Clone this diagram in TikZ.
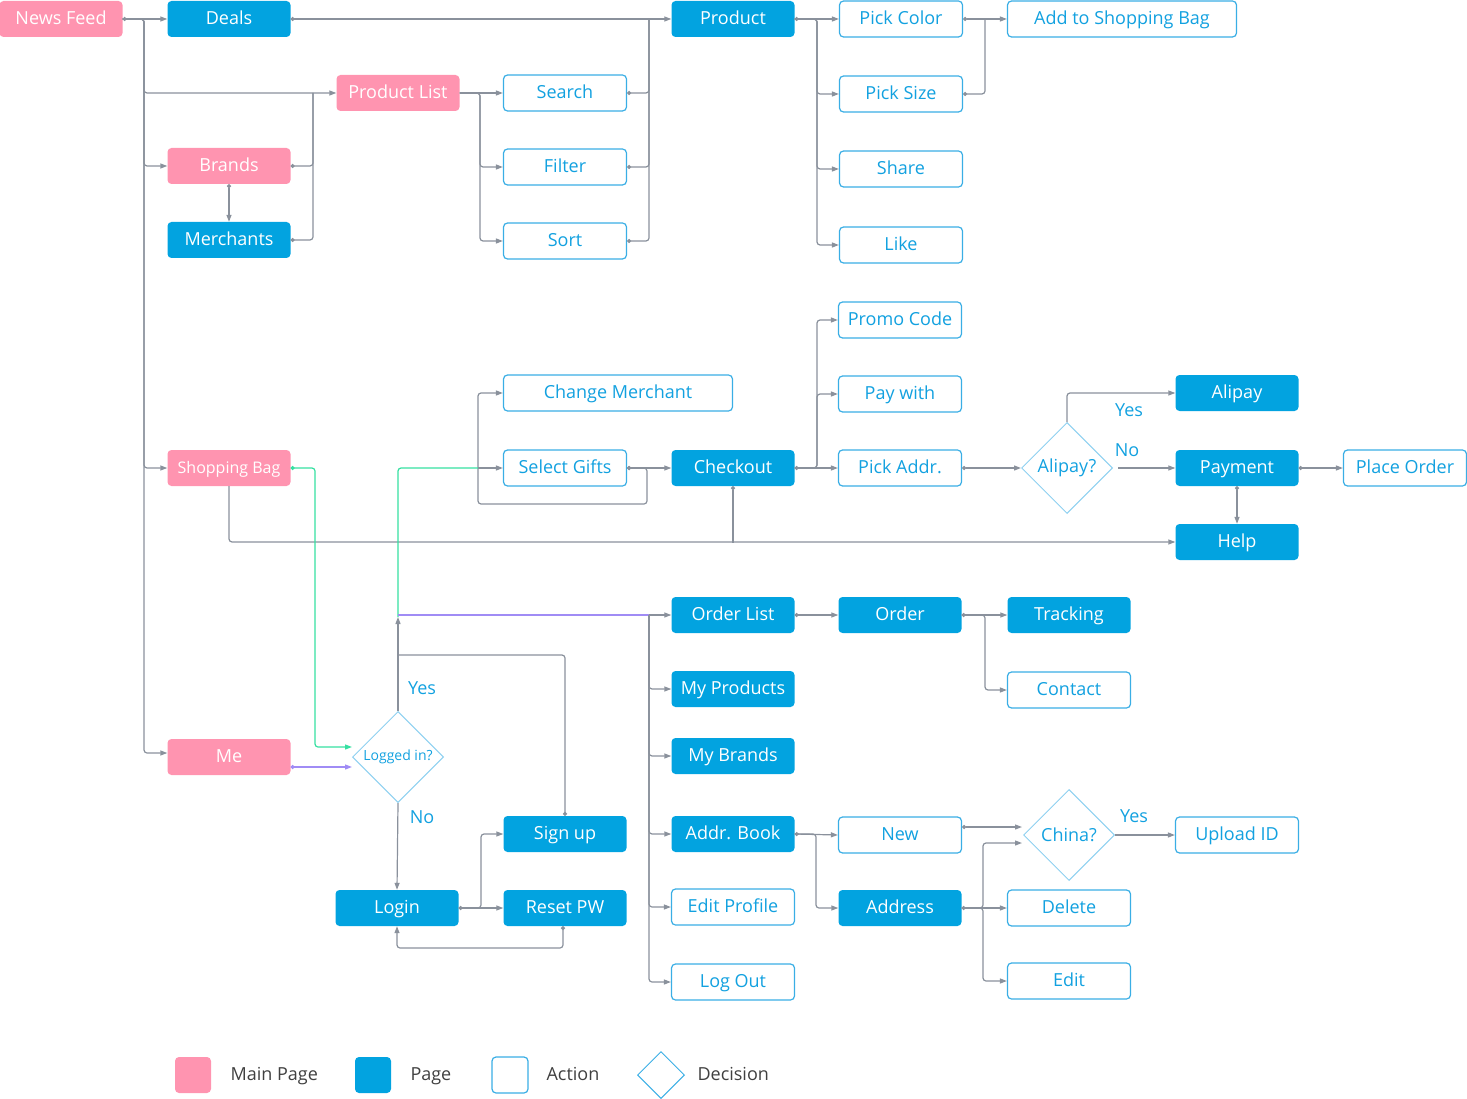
\documentclass[tikz,border=0pt]{standalone}
\usepackage{fontspec}
\setmainfont{Open Sans}
\usetikzlibrary{arrows.meta,shapes.geometric}
\definecolor{pinkc}{HTML}{FF94B0}
\definecolor{bluec}{HTML}{02A3E0}
\definecolor{actb}{HTML}{3AAEE5}
\definecolor{actt}{HTML}{12A1E0}
\definecolor{decb}{HTML}{8DD0F0}
\definecolor{lgray}{HTML}{8A919C}
\definecolor{greenc}{HTML}{36E0A2}
\definecolor{purplec}{HTML}{A08CF5}
\definecolor{legt}{HTML}{404040}
\begin{document}
\begin{tikzpicture}[x=1pt,y=-1pt,
  box/.style={rounded corners=4pt, minimum width=123pt, minimum height=36pt, inner sep=0pt, text height=12pt, text depth=1pt, font=\fontsize{18}{21}\selectfont},
  mainp/.style={box, fill=pinkc, text=white},
  pagep/.style={box, fill=bluec, text=white},
  actp/.style={box, draw=actb, line width=1.2pt, fill=white, text=actt},
  decp/.style={diamond, draw=decb, line width=1pt, minimum width=91pt, minimum height=91pt, inner sep=0pt, text=actt, font=\fontsize{18}{21}\selectfont},
  lbl/.style={text=actt, font=\fontsize{18}{21}\selectfont},
  leg/.style={text=legt, font=\fontsize{18}{21}\selectfont, anchor=west, text height=12pt, text depth=1pt},
  ln/.style={draw=lgray, line width=1.2pt, rounded corners=3pt},
  arr/.style={ln, -{Triangle[length=7pt,width=5pt]}},
  darr/.style={ln, {Circle[length=4pt]}-{Triangle[length=7pt,width=5pt]}},
  dln/.style={ln, {Circle[length=4pt]}-},
]
\useasboundingbox (0,0) rectangle (1467,1099);

% main pages
\node[mainp] (nf) at (61,19) {News Feed};
\node[mainp] (plist) at (398,93) {Product List};
\node[mainp] (brands) at (229,166) {Brands};
\node[mainp, font=\fontsize{16}{19}\selectfont] (sbag) at (229,468) {Shopping Bag};
\node[mainp] (me) at (229,757) {Me};
% pages
\node[pagep] (deals) at (229,19) {Deals};
\node[pagep] (prod) at (733,19) {Product};
\node[pagep] (merch) at (229,240) {Merchants};
\node[pagep] (checkout) at (733,468) {Checkout};
\node[pagep] (alipay) at (1237,393) {Alipay};
\node[pagep] (payment) at (1237,468) {Payment};
\node[pagep] (help) at (1237,542) {Help};
\node[pagep] (olist) at (733,615) {Order List};
\node[pagep] (order) at (900,615) {Order};
\node[pagep] (tracking) at (1069,615) {Tracking};
\node[pagep] (myprod) at (733,689) {My Products};
\node[pagep] (mybrands) at (733,756) {My Brands};
\node[pagep] (abook) at (733,834) {Addr. Book};
\node[pagep] (address) at (900,908) {Address};
\node[pagep] (signup) at (565,834) {Sign up};
\node[pagep] (reset) at (565,908) {Reset PW};
\node[pagep] (login) at (397,908) {Login};
% actions
\node[actp] (pcolor) at (901,19) {Pick Color};
\node[actp, minimum width=229pt] (addbag) at (1122,19) {Add to Shopping Bag};
\node[actp] (psize) at (901,94) {Pick Size};
\node[actp] (share) at (901,169) {Share};
\node[actp] (like) at (901,245) {Like};
\node[actp] (search) at (565,93) {Search};
\node[actp] (filter) at (565,167) {Filter};
\node[actp] (sort) at (565,241) {Sort};
\node[actp] (promo) at (900,320) {Promo Code};
\node[actp] (paywith) at (900,394) {Pay with};
\node[actp, minimum width=229pt] (cmerch) at (618,393) {Change Merchant};
\node[actp] (gifts) at (565,468) {Select Gifts};
\node[actp] (paddr) at (900,468) {Pick Addr.};
\node[actp] (porder) at (1405,468) {Place Order};
\node[actp] (contact) at (1069,690) {Contact};
\node[actp] (editprof) at (733,907) {Edit Profile};
\node[actp] (logout) at (733,982) {Log Out};
\node[actp] (new) at (900,835) {New};
\node[actp] (upload) at (1237,835) {Upload ID};
\node[actp] (delete) at (1069,908) {Delete};
\node[actp] (edit) at (1069,981) {Edit};
% decisions
\node[decp] (alipayq) at (1067,468) {Alipay?};
\node[decp, font=\fontsize{14}{16}\selectfont] (logged) at (398,757) {Logged in?};
\node[decp] (china) at (1069,835) {China?};
% labels
\node[lbl] (l1) at (422,688) {Yes};
\node[lbl] (l2) at (422,817) {No};
\node[lbl] (l3) at (1129,410) {Yes};
\node[lbl] (l4) at (1127,450) {No};
\node[lbl] (l5) at (1134,816) {Yes};

% coordinates
\coordinate (t1) at (144,19);
\coordinate (t2) at (313,93);
\coordinate (t3) at (649,19);
\coordinate (t4) at (480,93);
\coordinate (t5) at (817,19);
\coordinate (t6) at (985,19);
\coordinate (t7) at (817,468);
\coordinate (t8) at (733,543);
\coordinate (t9) at (398,617);
\coordinate (t10) at (649,615);
\coordinate (t11) at (985,615);
\coordinate (t12) at (816,834);
\coordinate (t13) at (983,908);
\coordinate (t14) at (481,908);
\coordinate (t15) at (398,655);
\coordinate (t16) at (478,468);

% News Feed
\draw[darr] (nf.east) -- (deals.west);
\draw[arr] (nf.east) -- (t1) |- (plist.west);
\draw[arr] (nf.east) -- (t1) |- (brands.west);
\draw[arr] (nf.east) -- (t1) |- (sbag.west);
\draw[arr] (nf.east) -- (t1) |- ([yshift=4pt]me.west);
\draw[dln] (brands.east) -| (t2);
\draw[dln] (merch.east) -| (t2);
\draw[darr] (brands.south) -- (merch.north);
% Deals / Product list
\draw[darr] (deals.east) -- (prod.west);
\draw[dln] (search.east) -| (t3);
\draw[dln] (filter.east) -| (t3);
\draw[dln] (sort.east) -| (t3);
\draw[arr] (plist.east) -- (search.west);
\draw[arr] (plist.east) -- (t4) |- (filter.west);
\draw[arr] (plist.east) -- (t4) |- (sort.west);
% Product
\draw[darr] (prod.east) -- (pcolor.west);
\draw[arr] (prod.east) -- (t5) |- (psize.west);
\draw[arr] (prod.east) -- (t5) |- (share.west);
\draw[arr] (prod.east) -- (t5) |- (like.west);
\draw[darr] (pcolor.east) -- (addbag.west);
\draw[dln] (psize.east) -| (t6);
% Checkout
\draw[darr] (checkout.east) -- (paddr.west);
\draw[arr] (checkout.east) -- (t7) |- (promo.west);
\draw[arr] (checkout.east) -- (t7) |- (paywith.west);
\draw[dln] (checkout.south) -- (t8);
\draw[arr] (sbag.south) |- (help.west);
\draw[darr] (gifts.east) -- (checkout.west);
\draw[darr] (gifts.east) -- (647,468) -- (647,504) -- (478,504) |- (cmerch.west);
\draw[arr] (t16) -- (gifts.west);
% Alipay
\draw[darr] (paddr.east) -- (alipayq.west);
\draw[arr] (alipayq.north) |- (alipay.west);
\draw[arr] ([xshift=5pt]alipayq.east) -- (payment.west);
\draw[darr] (payment.east) -- (porder.west);
\draw[darr] (payment.south) -- (help.north);
% Shopping bag / Me to Logged in
\draw[ln, draw=greenc, {Circle[length=4pt]}-{Triangle[length=7pt,width=5pt]}] (sbag.east) -- (315,468) |- ([yshift=10pt]logged.west);
\draw[ln, draw=purplec, {Circle[length=4pt]}-{Triangle[length=7pt,width=5pt]}] ([yshift=-10pt]me.east) -- ([yshift=-10pt]logged.west);
\draw[ln, draw=greenc] (t9) |- (t16);
\draw[ln, draw=purplec] (398,615) -- (t10);
\draw[arr] (t10) -- (olist.west);
\draw[arr] (logged.north) -- (t9);
\draw[dln] (signup.north) |- (t15);
\draw[arr] (logged.south) -- (login.north);
\draw[darr] (login.east) -- (reset.west);
\draw[arr] (login.east) -- (t14) |- (signup.west);
\draw[darr] ([xshift=-2pt]reset.south) -- (563,948) -| (login.south);
% Me menu
\draw[arr] (t10) |- (myprod.west);
\draw[arr] (t10) |- (mybrands.west);
\draw[arr] (t10) |- (abook.west);
\draw[arr] (t10) |- (editprof.west);
\draw[arr] (t10) |- (logout.west);
\draw[darr] (olist.east) -- (order.west);
\draw[darr] (order.east) -- (tracking.west);
\draw[arr] (order.east) -- (t11) |- (contact.west);
\draw[darr] (abook.east) -- (new.west);
\draw[arr] (abook.east) -- (t12) |- (address.west);
\draw[darr] ([yshift=8pt]new.east) -- (1022,827);
\draw[darr] (address.east) -- (delete.west);
\draw[arr] (address.east) -- (t13) |- (1022,843);
\draw[arr] (address.east) -- (t13) |- (edit.west);
\draw[arr] (china.east) -- (upload.west);

% legend
\node[box, fill=pinkc, minimum width=36pt] (lg1) at (193,1075) {};
\node[leg] (lt1) at (227,1075) {Main Page};
\node[box, fill=bluec, minimum width=36pt] (lg2) at (373,1075) {};
\node[leg] (lt2) at (407,1075) {Page};
\node[box, draw=actb, line width=1.2pt, fill=white, minimum width=36pt] (lg3) at (510,1075) {};
\node[leg] (lt3) at (543,1075) {Action};
\node[diamond, draw=actb, line width=1pt, minimum width=47pt, minimum height=47pt, inner sep=0pt] (lg4) at (661,1075) {};
\node[leg] (lt4) at (694,1075) {Decision};
\end{tikzpicture}
\end{document}
